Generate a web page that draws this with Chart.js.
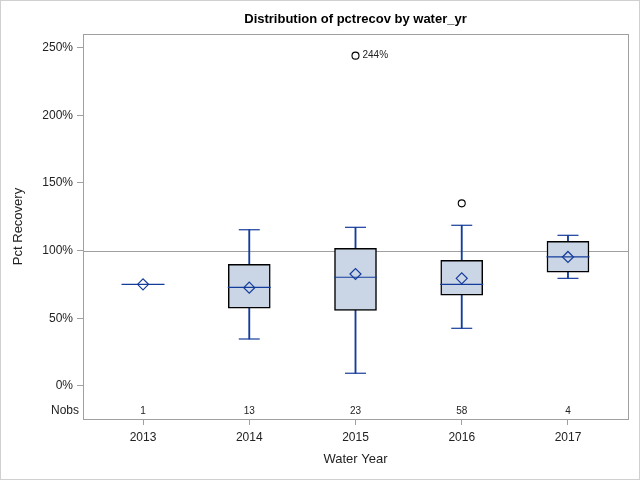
<!DOCTYPE html>
<html>
<head>
<meta charset="utf-8">
<script src="https://cdn.jsdelivr.net/npm/chart.js@4.4.1/dist/chart.umd.min.js"></script>
<style>
  html, body { margin: 0; padding: 0; background: #fff; }
  canvas { display: block; }
</style>
</head>
<body>
<canvas id="chart" width="640" height="480"></canvas>
<script>
// values (percent)
const years = [2013, 2014, 2015, 2016, 2017];
const q1 = [null, 57.4, 55.9, 67.0, 84.0];
const q3 = [null, 89.9, 101.7, 92.8, 106.9];
const medians = [75.1, 72.9, 80.3, 75.1, 95.3];
const means = [75.1, 72.6, 82.7, 79.5, 95.3];
const whiskerLow = [null, 34.7, 9.4, 42.6, 79.5];
const whiskerHigh = [null, 115.4, 117.2, 118.7, 111.3];
const nobs = [1, 13, 23, 58, 4];
const outlierYears = [2015, 2016];
const outlierValues = [244, 134.9];
const outlierLabels = ['244%', ''];
const yTicks = [0, 50, 100, 150, 200, 250];
const refValue = 100;

const FONT = "'Liberation Sans', Arial, sans-serif";
const BLUE = '#143c9a';
const GRAY = '#a0a0a0';

const boxData = [];
const whiskerData = [];
const capData = [];
years.forEach((yr, i) => {
    if (q1[i] !== null) boxData.push({ x: yr, y: [q1[i], q3[i]] });
    if (whiskerLow[i] !== null) {
        whiskerData.push({ x: yr, y: [whiskerLow[i], whiskerHigh[i]] });
        capData.push({ x: yr, y: whiskerLow[i] });
        capData.push({ x: yr, y: whiskerHigh[i] });
    }
});
const medianData = years.map((yr, i) => ({ x: yr, y: medians[i] }));
const meanData = years.map((yr, i) => ({ x: yr, y: means[i] }));
const outlierData = outlierYears.map((yr, i) => ({ x: yr, y: outlierValues[i] }));

const decorations = {
    id: 'decorations',
    beforeDatasetsDraw(chart) {
        const { ctx, chartArea, scales } = chart;
        const y = scales.y.getPixelForValue(refValue);
        ctx.save();
        ctx.strokeStyle = GRAY;
        ctx.lineWidth = 1;
        ctx.beginPath();
        ctx.moveTo(chartArea.left, Math.round(y) + 0.5);
        ctx.lineTo(chartArea.right, Math.round(y) + 0.5);
        ctx.stroke();
        ctx.restore();
    },
    afterDraw(chart) {
        const { ctx, chartArea, scales } = chart;
        ctx.save();
        // plot frame
        ctx.strokeStyle = GRAY;
        ctx.lineWidth = 1;
        ctx.strokeRect(Math.round(chartArea.left) + 0.5, Math.round(chartArea.top) + 0.5,
            Math.round(chartArea.right - chartArea.left), Math.round(chartArea.bottom - chartArea.top));
        // outer border
        ctx.strokeStyle = '#d0d0d0';
        ctx.strokeRect(0.5, 0.5, chart.width - 1, chart.height - 1);

        // Nobs row
        const rowY = chartArea.bottom - 8;
        ctx.fillStyle = '#222';
        ctx.textBaseline = 'middle';
        ctx.font = '12px ' + FONT;
        ctx.textAlign = 'right';
        ctx.fillText('Nobs', chartArea.left - 4, rowY);
        ctx.font = '10px ' + FONT;
        ctx.textAlign = 'center';
        years.forEach((yr, i) => {
            ctx.fillText(String(nobs[i]), scales.x.getPixelForValue(yr), rowY);
        });

        // outlier labels
        ctx.textAlign = 'left';
        outlierYears.forEach((yr, i) => {
            if (!outlierLabels[i]) return;
            ctx.fillText(outlierLabels[i], scales.x.getPixelForValue(yr) + 7,
                scales.y.getPixelForValue(outlierValues[i]));
        });
        ctx.restore();
    }
};

new Chart(document.getElementById('chart'), {
    type: 'bar',
    data: {
        datasets: [
            {
                type: 'scatter',
                data: outlierData,
                pointStyle: 'circle',
                pointRadius: 3.5,
                borderColor: '#000',
                backgroundColor: 'rgba(0,0,0,0)',
                borderWidth: 1.1,
                order: 0
            },
            {
                type: 'scatter',
                data: meanData,
                pointStyle: 'rectRot',
                pointRadius: 5.5,
                borderColor: BLUE,
                backgroundColor: 'rgba(0,0,0,0)',
                borderWidth: 1.2,
                order: 1
            },
            {
                type: 'scatter',
                data: medianData,
                pointStyle: 'line',
                pointRadius: 21.5,
                borderColor: BLUE,
                borderWidth: 1.2,
                order: 2
            },
            {
                type: 'scatter',
                data: capData,
                pointStyle: 'line',
                pointRadius: 10.5,
                borderColor: BLUE,
                borderWidth: 1.2,
                order: 3
            },
            {
                data: boxData,
                backgroundColor: '#cad5e5',
                borderColor: '#000',
                borderWidth: 1.5,
                borderSkipped: false,
                barThickness: 42,
                grouped: false,
                order: 4
            },
            {
                data: whiskerData,
                backgroundColor: BLUE,
                borderWidth: 0,
                barThickness: 1.2,
                grouped: false,
                order: 5
            }
        ]
    },
    options: {
        responsive: false,
        animation: false,
        devicePixelRatio: 1,
        layout: { autoPadding: false, padding: { left: 0, right: 12, top: 0, bottom: 0 } },
        plugins: {
            legend: { display: false },
            tooltip: { enabled: false },
            title: {
                display: true,
                fullSize: false,
                text: 'Distribution of pctrecov by water_yr',
                color: '#000',
                font: { family: FONT, size: 13, weight: 'bold' },
                padding: { top: 12, bottom: 6.4 }
            }
        },
        scales: {
            x: {
                type: 'linear',
                offset: false,
                min: 2012.435,
                max: 2017.565,
                afterBuildTicks(scale) {
                    scale.ticks = years.map(v => ({ value: v }));
                },
                afterFit(scale) {
                    scale.height = 61;
                    scale.paddingLeft = 0;
                    scale.paddingRight = 0;
                },
                ticks: {
                    color: '#222',
                    font: { family: FONT, size: 12 },
                    padding: 5,
                    callback: v => String(v)
                },
                grid: { offset: false, drawOnChartArea: false, drawTicks: true, tickLength: 6, color: GRAY },
                border: { display: false },
                title: {
                    display: true,
                    text: 'Water Year',
                    color: '#222',
                    font: { family: FONT, size: 13 },
                    padding: { top: 0, bottom: 13 }
                }
            },
            y: {
                type: 'linear',
                min: -24.4,
                max: 260,
                afterBuildTicks(scale) {
                    scale.ticks = yTicks.map(v => ({ value: v }));
                },
                afterFit(scale) {
                    scale.width = 83;
                    scale.paddingTop = 0;
                    scale.paddingBottom = 0;
                },
                ticks: {
                    color: '#222',
                    font: { family: FONT, size: 12 },
                    padding: 4,
                    callback: v => v + '%'
                },
                grid: { drawOnChartArea: false, drawTicks: true, tickLength: 6, color: GRAY },
                border: { display: false },
                title: {
                    display: true,
                    text: 'Pct Recovery',
                    color: '#222',
                    font: { family: FONT, size: 13 },
                    padding: { top: 11, bottom: 0 }
                }
            }
        }
    },
    plugins: [decorations]
});
</script>
</body>
</html>
